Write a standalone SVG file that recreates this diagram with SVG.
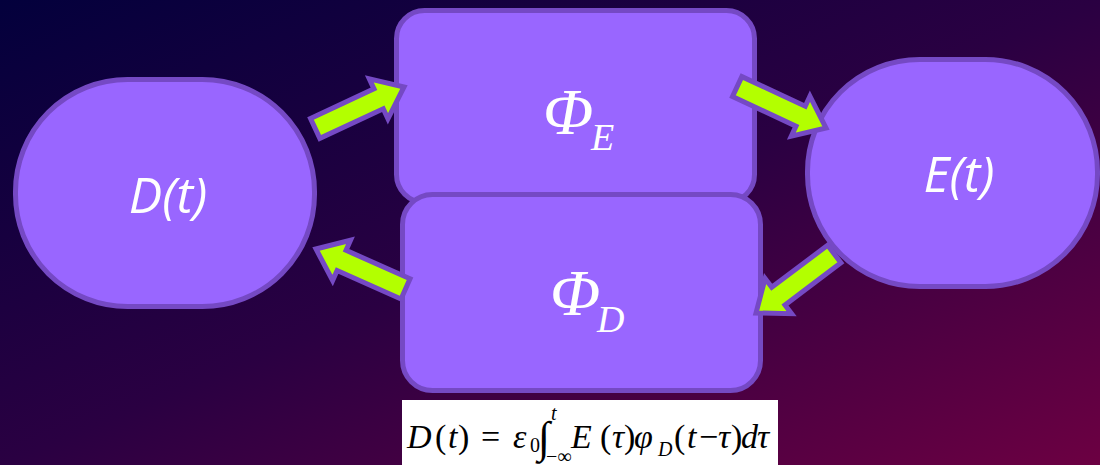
<svg xmlns="http://www.w3.org/2000/svg" width="1100" height="465" viewBox="0 0 1100 465">
<defs>
<linearGradient id="bg" x1="0" y1="0" x2="1" y2="1">
<stop offset="0" stop-color="#03003c"/>
<stop offset="0.5" stop-color="#2a0042"/>
<stop offset="1" stop-color="#6c0042"/>
</linearGradient>
</defs>
<style>
.node{fill:#9966ff;stroke:#7549c4;stroke-width:5}
.arrow{fill:#b3ff00;stroke:#7549c4;stroke-width:5;stroke-linejoin:miter}
.lbl{font-family:"Open Sans","Noto Sans",sans-serif;font-style:italic;font-weight:400;font-size:50px;fill:#ffffff}
.phi{font-family:"Liberation Serif","DejaVu Serif",serif;font-style:italic;fill:#ffffff}
.eq{font-family:"Liberation Serif","DejaVu Serif",serif;fill:#000000}
.big{font-size:34px}
.sm{font-size:20px}
.it{font-style:italic}
</style>
<rect width="1100" height="465" fill="url(#bg)"/>
<g id="node-D">
<rect class="node" x="15.5" y="79.5" width="299" height="227" rx="112" ry="112"/>
<text class="lbl" x="168" y="213" text-anchor="middle">D(t)</text>
</g>
<g id="node-E">
<rect class="node" x="807.5" y="59.5" width="290" height="227" rx="112" ry="112"/>
<text class="lbl" x="959" y="192" text-anchor="middle">E(t)</text>
</g>
<g id="node-PhiE">
<rect class="node" x="396.5" y="10.5" width="358" height="192" rx="28"/>
<text class="phi" x="543" y="134" font-size="66">Φ</text>
<text class="phi" x="591" y="150" font-size="38">E</text>
</g>
<g id="node-PhiD">
<rect class="node" x="402.5" y="194.5" width="358" height="196" rx="30"/>
<text class="phi" x="550" y="315" font-size="66">Φ</text>
<text class="phi" x="597" y="332" font-size="38">D</text>
</g>
<g id="connectors">
<polygon class="arrow" transform="translate(404,87) rotate(-25)" points="-98,-11 -28,-11 -28,-22 0,0 -28,22 -28,11 -98,11"/>
<polygon class="arrow" transform="translate(826,128) rotate(25)" points="-98,-11 -28,-11 -28,-22 0,0 -28,22 -28,11 -98,11"/>
<polygon class="arrow" transform="translate(756,313) rotate(143)" points="-98,-11 -28,-11 -28,-22 0,0 -28,22 -28,11 -98,11"/>
<polygon class="arrow" transform="translate(316,249) rotate(204)" points="-98,-11 -28,-11 -28,-22 0,0 -28,22 -28,11 -98,11"/>
</g>
<g id="formula">
<rect x="402" y="400" width="376" height="65" fill="#ffffff"/>
<text class="eq big" y="448"><tspan x="407" class="it">D</tspan><tspan x="435">(</tspan><tspan x="448" class="it">t</tspan><tspan x="458">)</tspan><tspan x="481">=</tspan><tspan x="513" class="it">ε</tspan></text>
<text class="eq sm" x="530" y="452">0</text>
<text class="eq" x="538" y="452" style="font-size:44px">∫</text>
<text class="eq sm it" x="551" y="420">t</text>
<text class="eq sm" x="546" y="463">−∞</text>
<text class="eq big" y="448"><tspan x="571" class="it">E</tspan><tspan x="600">(</tspan><tspan x="612" class="it">τ</tspan><tspan x="624">)</tspan><tspan x="634" class="it">φ</tspan></text>
<text class="eq sm it" x="658" y="456">D</text>
<text class="eq big" y="448"><tspan x="674">(</tspan><tspan x="687" class="it">t</tspan><tspan x="699">−</tspan><tspan x="718" class="it">τ</tspan><tspan x="731">)</tspan><tspan x="741" class="it">d</tspan><tspan x="757" class="it">τ</tspan></text>
</g>
</svg>
